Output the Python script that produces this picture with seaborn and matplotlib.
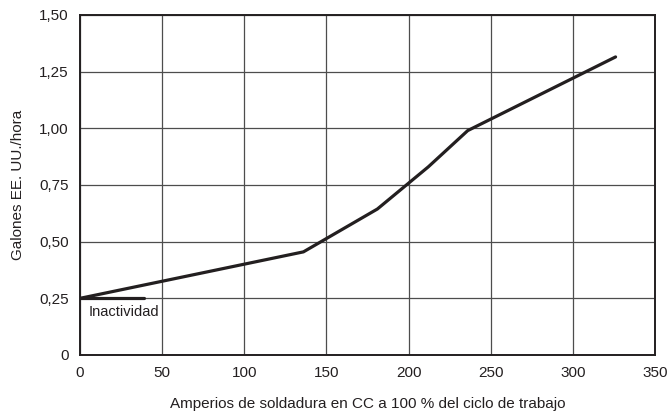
import numpy as np
import pandas as pd
import matplotlib
matplotlib.use("Agg")
import matplotlib.pyplot as plt
from matplotlib.ticker import FuncFormatter
import seaborn as sns

# data
amperios = [0, 136, 181, 212, 236, 326]
galones = [0.25, 0.455, 0.644, 0.83, 0.99, 1.315]
inact_x = [0, 39]
inact_y = [0.25, 0.25]
xticks = [0, 50, 100, 150, 200, 250, 300, 350]
yticks = [0, 0.25, 0.50, 0.75, 1.00, 1.25, 1.50]

sns.set_style("white")
plt.rcParams['font.family'] = ['Liberation Sans', 'DejaVu Sans']

df = pd.DataFrame({"amp": amperios, "gal": galones})
df_in = pd.DataFrame({"amp": inact_x, "gal": inact_y})

fig = plt.figure(figsize=(6.68, 4.18), dpi=100)
ax = fig.add_axes([80 / 668, 63 / 418, 575 / 668, 340 / 418])

ink = "#231f20"
sns.lineplot(data=df, x="amp", y="gal", ax=ax, color=ink, linewidth=2.3, zorder=3)
sns.lineplot(data=df_in, x="amp", y="gal", ax=ax, color=ink, linewidth=2.3, zorder=3)

ax.set_xlim(0, 350)
ax.set_ylim(0, 1.5)
ax.set_xticks(xticks)
ax.set_yticks(yticks)
ax.yaxis.set_major_formatter(FuncFormatter(lambda v, p: "0" if v == 0 else f"{v:.2f}".replace(".", ",")))
ax.grid(True, color="#4d4d4d", linewidth=0.9)
ax.tick_params(length=0, labelsize=11, colors=ink, pad=8)
for s in ax.spines.values():
    s.set_color(ink)
    s.set_linewidth(1.4)

ax.text(5, 0.19, "Inactividad", fontsize=10.5, color=ink, va="center", ha="left")

ax.set_xlabel("Amperios de soldadura en CC a 100 % del ciclo de trabajo", fontsize=11, color=ink, labelpad=12)
ax.set_ylabel("Galones EE. UU./hora", fontsize=11, color=ink, labelpad=10)

fig.savefig("out.png", dpi=100)
